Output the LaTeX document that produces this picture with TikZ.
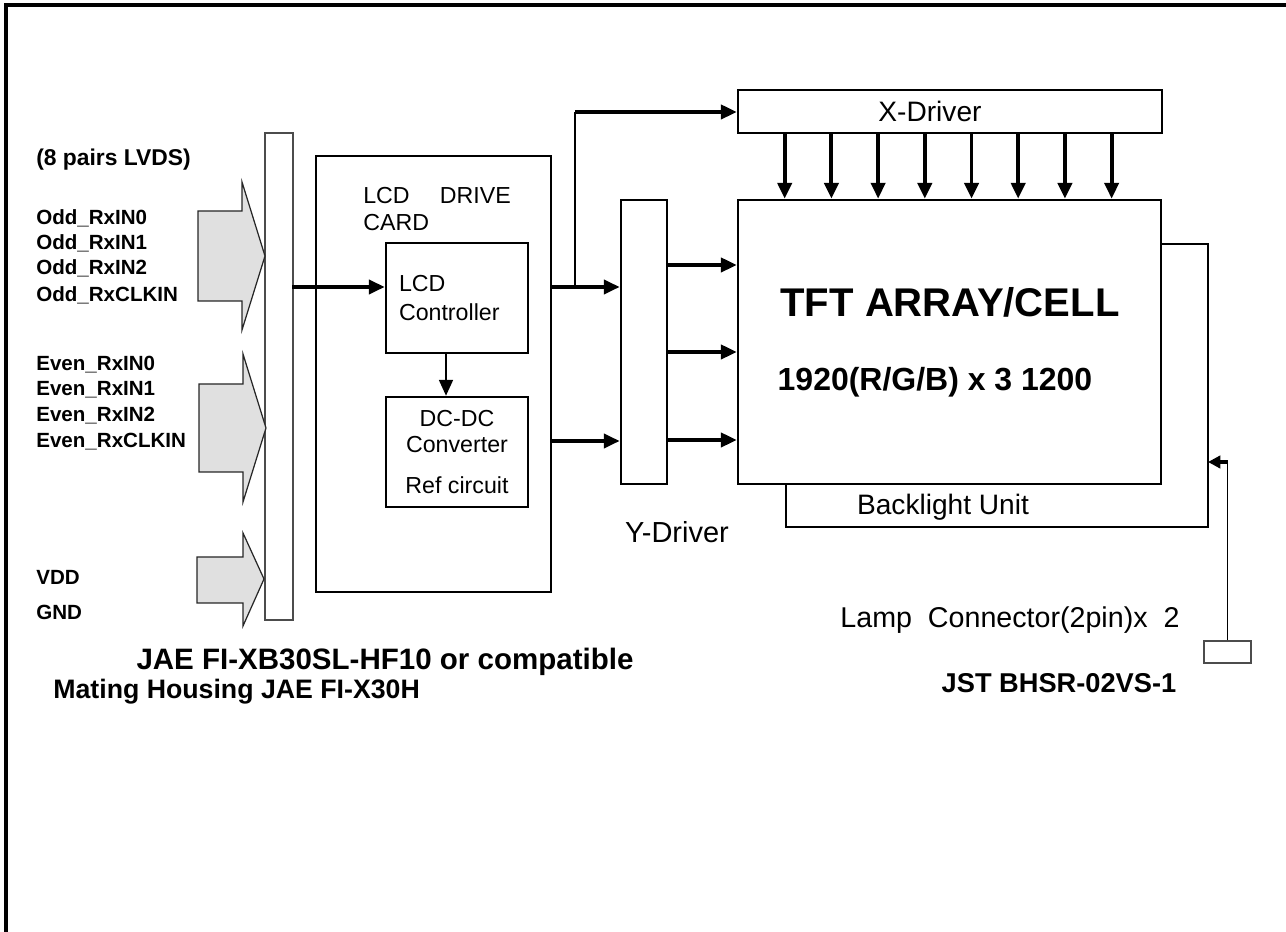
\documentclass[tikz,border=0pt]{standalone}
\usepackage{fontspec}
\setmainfont{Liberation Sans}
\usetikzlibrary{arrows.meta,positioning,calc}

\begin{document}
\begin{tikzpicture}[
    x=0.02cm, y=-0.02cm,
    >={Triangle[length=9pt,width=8pt]},
    box/.style={draw, line width=1.5pt, inner sep=0pt},
    thinbox/.style={draw=black!70, line width=0.8pt, inner sep=0pt},
    sig/.style={font=\bfseries\fontsize{11.7}{13}\selectfont, anchor=west, inner sep=0pt},
    part/.style={font=\bfseries\fontsize{15.5}{18}\selectfont, inner sep=0pt},
    small/.style={font=\fontsize{13.2}{15}\selectfont, inner sep=0pt},
    big/.style={font=\fontsize{16}{18}\selectfont, inner sep=0pt},
    bus/.style={->, line width=2.2pt},
    wire/.style={line width=0.9pt},
    fatarrow/.style={draw=black!85, fill=black!12, line width=0.7pt}
]
\useasboundingbox (0,0) rectangle (1286,932);
% frame
\draw[line width=2.2pt] (6,932) -- (6,5) -- (1286,5);

% input side
\node[thinbox, minimum width=0.56cm, minimum height=9.74cm] (conn) at (279,376.5) {};
\draw[fatarrow] (198,211) -- (242,211) -- (242,182) -- (265,256) -- (242,330) -- (242,301) -- (198,301) -- cycle;
\draw[fatarrow] (199,384) -- (243,384) -- (243,354) -- (266,428) -- (243,502) -- (243,472) -- (199,472) -- cycle;
\draw[fatarrow] (197,557) -- (243,557) -- (243,533) -- (264,579) -- (243,626) -- (243,603) -- (197,603) -- cycle;

\node[sig, font=\bfseries\fontsize{13}{14}\selectfont] (lvds) at (36,160) {(8 pairs LVDS)};
\foreach \t/\y in {Odd\_RxIN0/218, Odd\_RxIN1/243, Odd\_RxIN2/268, Odd\_RxCLKIN/295,
                   Even\_RxIN0/365, Even\_RxIN1/390, Even\_RxIN2/416, Even\_RxCLKIN/442,
                   VDD/577, GND/612}
    \node[sig] (sig\y) at (36,\y) {\t};

% drive card
\node[box, minimum width=4.7cm, minimum height=8.72cm] (card) at (433.5,374) {};
\node[small, anchor=west, align=left] (cardlbl) at (363,209) {LCD\hspace{1.3em}DRIVE\\CARD};
\node[box, small, minimum width=2.84cm, minimum height=2.2cm, text width=2.32cm, align=left] (ctrl) at (457,298) {LCD\\[2pt]Controller};
\node[box, small, minimum width=2.84cm, minimum height=2.2cm, align=center] (dcdc) at (457,452) {DC-DC\\Converter\\[8pt]Ref circuit};

% drivers and panel
\node[box, minimum width=0.92cm, minimum height=5.68cm] (ydrv) at (644,342) {};
\node[big, font=\fontsize{16.5}{18}\selectfont] (ylbl) at (677,532) {Y-Driver};
\node[box, big, minimum width=8.48cm, minimum height=0.86cm] (xdrv) at (950,111.5) {\hspace{-0.8cm}X-Driver};
\node[box, minimum width=8.46cm, minimum height=5.68cm] (tft) at (949.5,342) {};
\node[font=\bfseries\fontsize{22.8}{26}\selectfont, inner sep=0pt] (tfttitle) at (950,302) {TFT ARRAY/CELL};
\node[font=\bfseries\fontsize{18.2}{21}\selectfont, inner sep=0pt] (tftres) at (935,382) {1920(R/G/B) x 3 1200};

% connections
\coordinate (busin) at (292,287);
\draw[bus] (busin) -- (busin -| ctrl.west);
\draw[wire, ->] ($(ctrl.south)+(-11,0)$) -- ($(dcdc.north)+(-11,0)$);
\coordinate (cout1) at (card.east |- busin);
\coordinate (cout2) at (551,441);
\draw[bus] (cout1) -- (cout1 -| ydrv.west);
\draw[bus] (cout2) -- (cout2 -| ydrv.west);
\coordinate (tap) at (575,287);
\coordinate (tapup) at (575,112);
\draw[wire] (tap) -- (tapup);
\draw[bus] (tapup) -- (tapup -| xdrv.west);
\foreach \i in {0,...,7}{
    \coordinate (xo\i) at ($(xdrv.south west)+(48+\i*46.7,0)$);
    \draw[bus] (xo\i) -- (xo\i |- tft.north);
}
\foreach \y in {265,352,440}{
    \coordinate (yo\y) at (ydrv.east |- 0,\y);
    \draw[bus] (yo\y) -- (yo\y -| tft.west);
}

% backlight
\coordinate (bl1) at (tft.east |- 0,244);
\coordinate (bl2) at (1208,244);
\coordinate (bl3) at (1208,527);
\coordinate (bl4) at (786,527);
\coordinate (bl5) at (786,0 |- tft.south);
\draw[wire] (bl1) -- (bl2) -- (bl3) -- (bl4) -- (bl5);
\node[big] (bllbl) at (943,507) {Backlight Unit};

% lamp connector
\node[thinbox, minimum width=0.94cm, minimum height=0.44cm] (lamp) at (1227.5,652) {};
\coordinate (lampup) at (lamp.north |- 0,462);
\draw[wire] (lamp.north) -- (lampup);
\draw[line width=2pt, -{Triangle[length=7pt,width=7pt]}] (lampup) -- (lampup -| bl2);
\node[big, font=\fontsize{16.3}{18}\selectfont] (lamplbl) at (1010,620) {Lamp\ \ Connector(2pin)x\ \ 2};
\node[part] (jst) at (1059,683) {JST BHSR-02VS-1};

% connector part numbers
\node[part, font=\bfseries\fontsize{16.8}{18}\selectfont] (jae) at (385,662) {JAE FI-XB30SL-HF10 or compatible};
\node[part, font=\bfseries\fontsize{15.2}{18}\selectfont, anchor=west] (mating) at (53,692) {Mating Housing JAE FI-X30H};
\end{tikzpicture}
\end{document}
